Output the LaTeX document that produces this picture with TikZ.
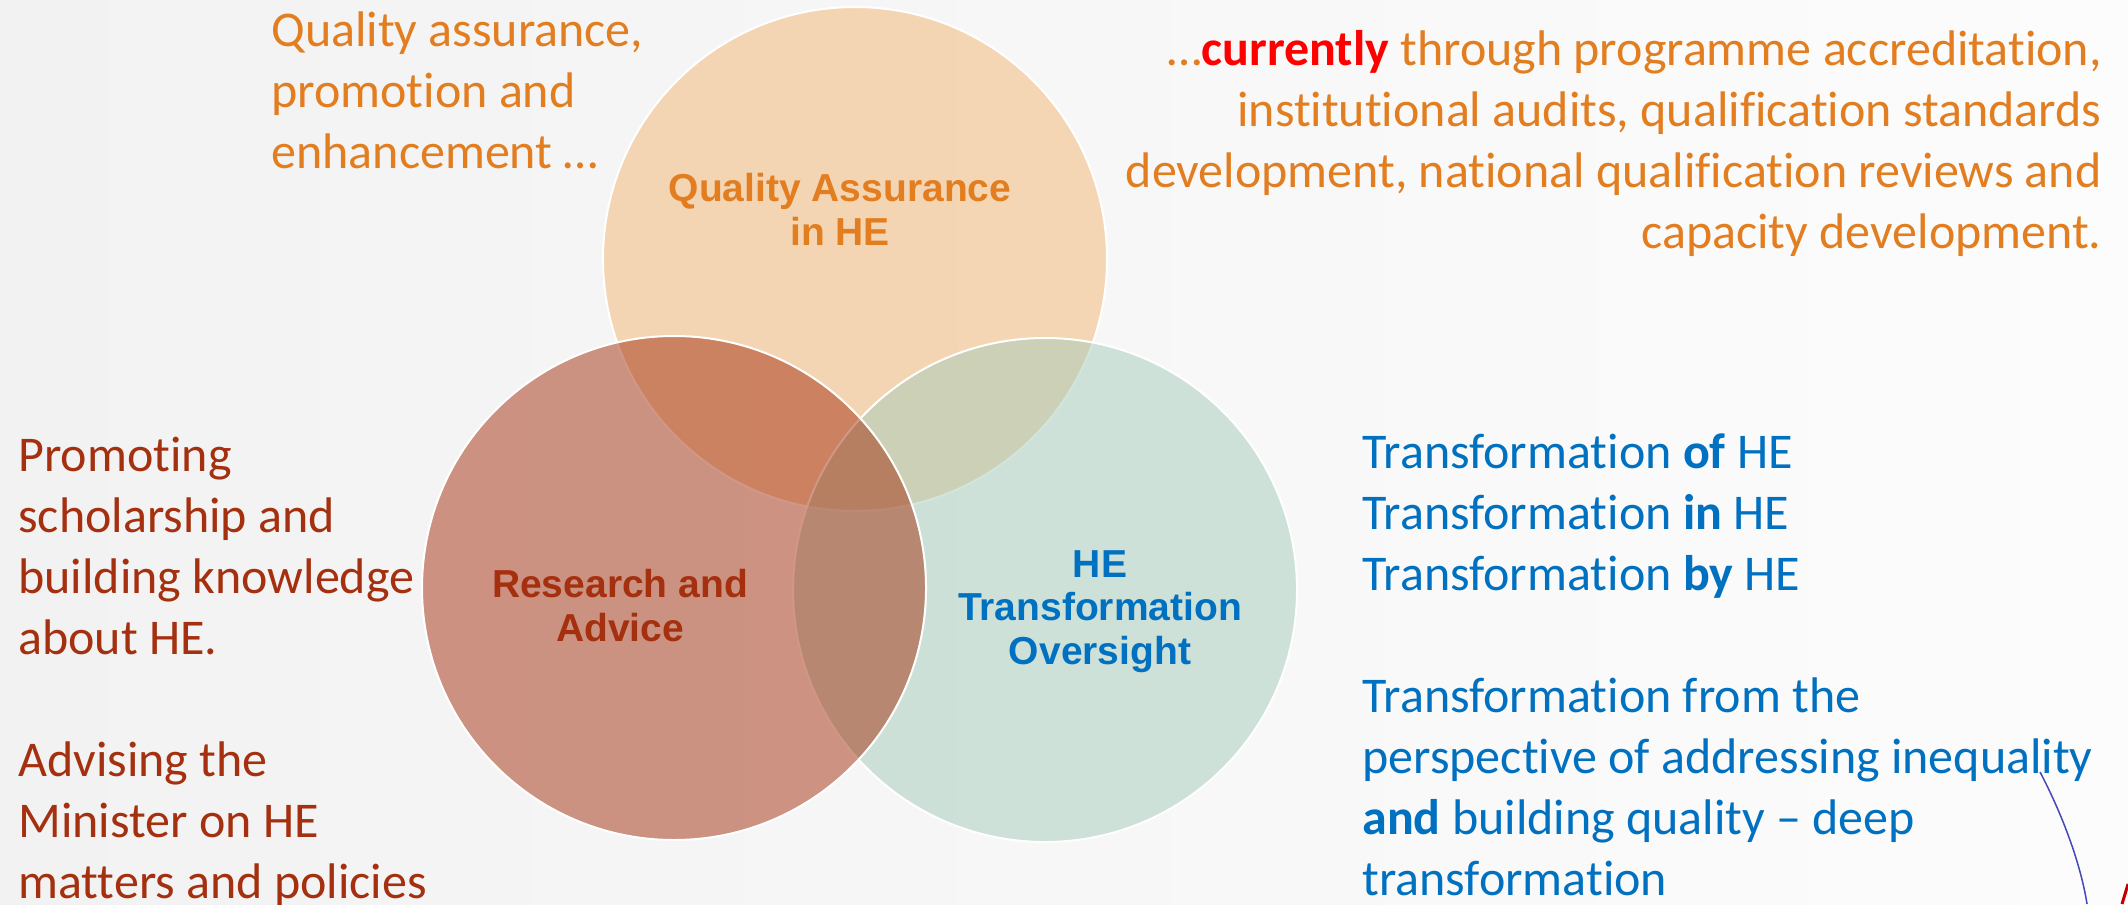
\documentclass[tikz,border=0pt]{standalone}
\usepackage{fontspec}
\setmainfont{Carlito}[Ligatures=NoCommon]
\newfontfamily\labelfont{Liberation Sans}
\definecolor{qaorange}{RGB}{226,125,32}
\definecolor{rared}{RGB}{165,48,15}
\definecolor{heblue}{RGB}{0,112,192}
\definecolor{qafill}{RGB}{243,182,114}
\definecolor{rafill}{RGB}{165,48,15}
\definecolor{hefill}{RGB}{164,204,186}
\definecolor{bgleft}{RGB}{242,242,242}
\definecolor{bgright}{RGB}{252,252,252}
\definecolor{penblue}{RGB}{70,72,185}
\definecolor{penred}{RGB}{192,0,0}
\tikzset{
  venn/.style={
    circle,
    draw=white,
    line width=1pt,
    fill opacity=0.5,
    minimum size=252pt,
    inner sep=0pt
  },
  bodytext/.style={
    inner sep=0pt,
    font=\fontsize{25}{30.5}\selectfont
  },
  venntext/.style={
    inner sep=0pt,
    align=center,
    font=\labelfont\bfseries\fontsize{19.5}{21.75}\selectfont
  }
}
\begin{document}
\begin{tikzpicture}[x=0.5pt, y=-0.5pt]
  \useasboundingbox (0,0) rectangle (2128,904);
  \shade[left color=bgleft, right color=bgright] (0,0) rectangle (2128,904);
  % the three circles, red one on top
  \node[venn, fill=qafill] (qa) at (855,259) {};
  \node[venn, fill=hefill] (he) at (1045,590) {};
  \node[venn, fill=rafill] (ra) at (674,588) {};
  % labels: base is the last line
  \node[venntext, text=qaorange, anchor=base] (qalabel) at (840,245) {Quality Assurance\\in HE};
  \node[venntext, text=rared, anchor=base] (ralabel) at (620,641) {Research and\\Advice};
  \node[venntext, text=heblue, anchor=base] (helabel) at (1100,664) {HE\\Transformation\\Oversight};
  % notes round the diagram
  \node[bodytext, text=qaorange, align=left, anchor=base west] (qanote) at (271,168)
    {Quality assurance,\\promotion and\\enhancement …};
  \node[bodytext, text=qaorange, align=right, anchor=base east] (qadetail) at (2102,248)
    {…\textcolor{red}{\bfseries currently} through programme accreditation,\\
     institutional audits, qualification standards\\
     development, national qualification reviews and\\
     capacity development.};
  \node[bodytext, text=rared, align=left, anchor=base west] (ranote) at (18,898)
    {Promoting\\scholarship and\\building knowledge\\about HE.\\[30.5pt]
     Advising the\\Minister on HE\\matters and policies};
  \node[bodytext, text=heblue, align=left, anchor=base west] (henote) at (1362,895)
    {Transformation \textbf{of} HE\\Transformation \textbf{in} HE\\Transformation \textbf{by} HE\\[30.5pt]
     Transformation from the\\perspective of addressing inequality\\
     \textbf{and} building quality – deep\\transformation};
  % pen strokes cut off at the corner
  \draw[penblue, line width=0.75pt] (2040,772) .. controls (2060,810) and (2080,860) .. (2087,904);
  \draw[penred, line width=1.5pt] (2128,884) -- (2122,904);
\end{tikzpicture}
\end{document}
